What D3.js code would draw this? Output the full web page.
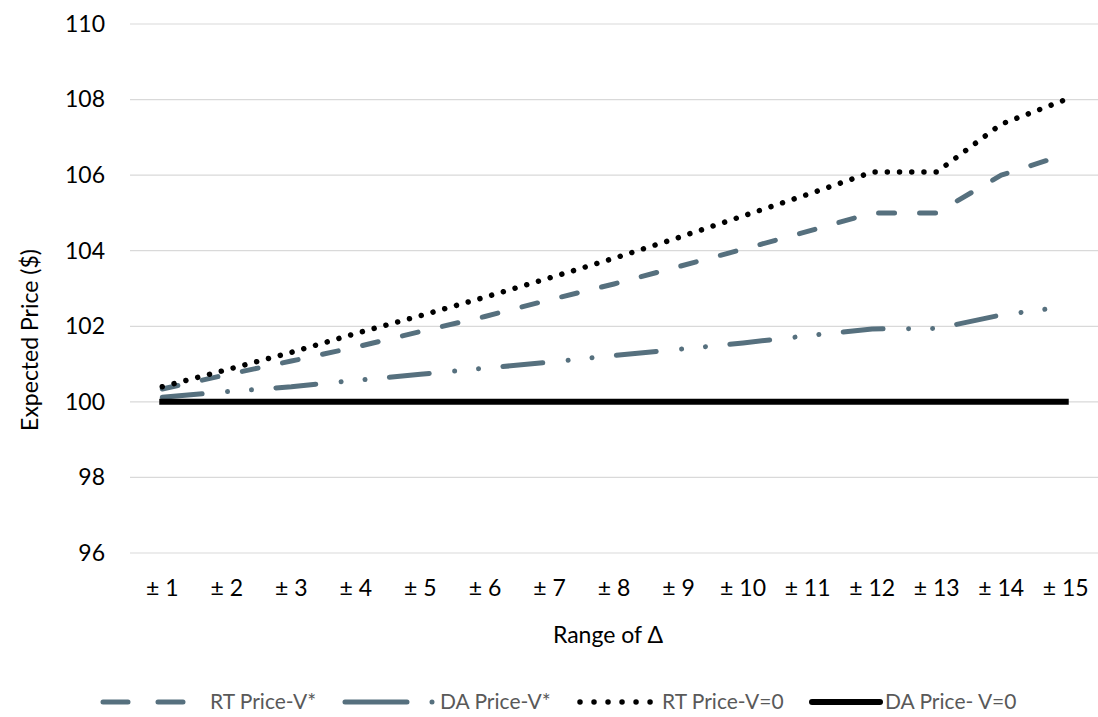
<!DOCTYPE html>
<html>
<head>
<meta charset="utf-8">
<script src="https://cdn.jsdelivr.net/npm/d3@7"></script>
<style>
  html, body { margin: 0; padding: 0; background: #fff; }
  svg { display: block; font-family: Lato, "Open Sans", sans-serif; }
</style>
</head>
<body>
<svg id="chart" width="1098" height="717"></svg>
<script>
// Categories: range of the price deviation
const categories = ["± 1","± 2","± 3","± 4","± 5","± 6","± 7","± 8","± 9","± 10","± 11","± 12","± 13","± 14","± 15"];

// Expected price series ($)
const rtPriceVStar = [100.34, 100.72, 101.08, 101.45, 101.86, 102.26, 102.70, 103.12, 103.58, 104.04, 104.51, 105.00, 105.00, 106.00, 106.55];
const daPriceVStar = [100.12, 100.27, 100.40, 100.57, 100.73, 100.89, 101.05, 101.23, 101.39, 101.56, 101.75, 101.93, 101.94, 102.30, 102.52];
const rtPriceV0    = [100.40, 100.85, 101.31, 101.81, 102.28, 102.77, 103.28, 103.80, 104.35, 104.92, 105.49, 106.08, 106.08, 107.35, 108.00];
const daPriceV0    = [100, 100, 100, 100, 100, 100, 100, 100, 100, 100, 100, 100, 100, 100, 100];

const yTicks = [96, 98, 100, 102, 104, 106, 108, 110];
const seriesNames = ["RT Price-V*", "DA Price-V*", "RT Price-V=0", "DA Price- V=0"];

const slate = "#56707e";
const styles = [
  { color: slate,  width: 5, dash: "16 25", cap: "round" },
  { color: slate,  width: 5, dash: "40 25.5 0.01 24 0.01 24.5", cap: "round" },
  { color: "#000", width: 5.5, dash: "0.01 12.2", cap: "round" },
  { color: "#000", width: 6, dash: null, cap: "square" }
];
const seriesData = [rtPriceVStar, daPriceVStar, rtPriceV0, daPriceV0];

const svg = d3.select("#chart");
const plot = { left: 130, right: 1098, top: 24, bottom: 553 };

const x = d3.scaleBand().domain(categories).range([plot.left, plot.right]).padding(0);
const y = d3.scaleLinear().domain([96, 110]).range([plot.bottom, plot.top]);
const cx = c => x(c) + x.bandwidth() / 2;

// Horizontal gridlines
svg.append("g")
  .selectAll("line")
  .data(yTicks)
  .join("line")
  .attr("x1", plot.left).attr("x2", plot.right)
  .attr("y1", d => y(d)).attr("y2", d => y(d))
  .attr("stroke", "#d9d9d9").attr("stroke-width", 1.2);

// Y axis labels
const yAxis = svg.append("g")
  .attr("transform", `translate(${plot.left - 25},0)`)
  .call(d3.axisLeft(y).tickValues(yTicks).tickSize(0).tickPadding(0));
yAxis.select(".domain").remove();
yAxis.selectAll("text")
  .attr("font-family", "Lato, sans-serif")
  .attr("font-size", 23).attr("fill", "#000");

// X axis labels
const xAxis = svg.append("g")
  .attr("transform", `translate(0,${plot.bottom + 27})`)
  .call(d3.axisBottom(x).tickSize(0).tickPadding(0));
xAxis.select(".domain").remove();
xAxis.selectAll("text")
  .attr("font-family", "Lato, sans-serif")
  .attr("font-size", 23).attr("fill", "#000");

// Axis titles
svg.append("text")
  .attr("x", 608).attr("y", 643)
  .attr("text-anchor", "middle")
  .attr("font-size", 23).attr("fill", "#000")
  .text("Range of Δ");

svg.append("text")
  .attr("transform", `translate(38,340) rotate(-90)`)
  .attr("text-anchor", "middle")
  .attr("font-size", 23).attr("fill", "#000")
  .text("Expected Price ($)");

// Series lines (solid baseline drawn last so it sits on top)
const line = d3.line().x((d, i) => cx(categories[i])).y(d => y(d));
const order = [1, 0, 2, 3];
order.forEach(si => {
  const s = styles[si];
  svg.append("path")
    .datum(seriesData[si])
    .attr("d", line)
    .attr("fill", "none")
    .attr("stroke", s.color)
    .attr("stroke-width", s.width)
    .attr("stroke-linecap", s.cap)
    .attr("stroke-linejoin", "round")
    .attr("stroke-dasharray", s.dash);
});

// Legend
const legendY = 702;
const legendItems = [
  { x0: 103, x1: 183, tx: 210 },
  { x0: 345, x1: 433, tx: 440 },
  { x0: 580, x1: 652, tx: 662 },
  { x0: 812, x1: 880, tx: 885 }
];
const legendDash = ["25 30", "62 25 0.01 100", "0.01 14", null];
const legend = svg.append("g");
legendItems.forEach((it, i) => {
  const s = styles[i];
  legend.append("line")
    .attr("x1", it.x0).attr("x2", it.x1)
    .attr("y1", legendY).attr("y2", legendY)
    .attr("stroke", s.color)
    .attr("stroke-width", s.width)
    .attr("stroke-linecap", "round")
    .attr("stroke-dasharray", legendDash[i]);
  legend.append("text")
    .attr("x", it.tx).attr("y", legendY)
    .attr("dy", "0.35em")
    .attr("font-size", 21).attr("fill", "#595959")
    .text(seriesNames[i]);
});
</script>
</body>
</html>
